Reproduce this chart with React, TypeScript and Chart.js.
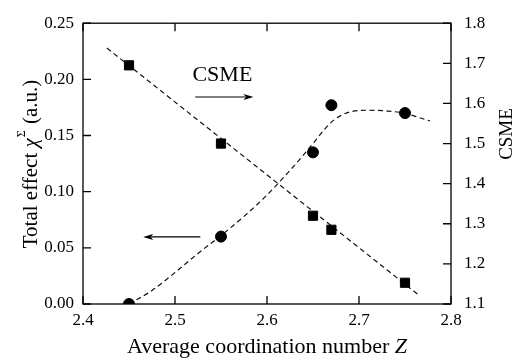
import { useEffect, useRef } from 'react';
import { Chart, registerables } from 'chart.js';

Chart.register(...registerables);

// ---- data ----
const zCsme = [2.45, 2.55, 2.65, 2.67, 2.75];
const csmeValues = [1.695, 1.5, 1.32, 1.285, 1.153];

const zTotal = [2.45, 2.55, 2.65, 2.67, 2.75];
const totalValues = [0.0, 0.06, 0.135, 0.177, 0.17];

const csmeFitZ = [2.426, 2.764];
const csmeFitValues = [1.738, 1.124];

const totalFitZ = [2.45, 2.475, 2.5, 2.525, 2.55, 2.575, 2.6, 2.625, 2.64, 2.653, 2.663, 2.673, 2.682, 2.691, 2.71, 2.731, 2.749, 2.777];
const totalFitValues = [0.0, 0.012, 0.028, 0.045, 0.061, 0.078, 0.097, 0.119, 0.133, 0.146, 0.156, 0.164, 0.1685, 0.1712, 0.1725, 0.1718, 0.1698, 0.163];

const xTicks = [2.4, 2.5, 2.6, 2.7, 2.8];
const leftTicks = [0, 0.05, 0.1, 0.15, 0.2, 0.25];
const rightTicks = [1.1, 1.2, 1.3, 1.4, 1.5, 1.6, 1.7, 1.8];

// annotation anchors (data units)
const csmeLabelAnchor = { z: 2.5515, v: 1.657 }; // right axis
const csmeArrow = { z0: 2.522, z1: 2.5853, v: 1.616 }; // right axis
const totalArrow = { z0: 2.5275, z1: 2.4654, v: 0.0597 }; // left axis

const FONT = 'Liberation Serif';
const INK = '#000';

Chart.defaults.font.family = FONT;
Chart.defaults.color = INK;

function drawArrow(ctx: CanvasRenderingContext2D, x0: number, x1: number, y: number) {
  const dir = x1 > x0 ? 1 : -1;
  const L = 10;
  const H = 3;
  ctx.beginPath();
  ctx.moveTo(x0, y);
  ctx.lineTo(x1 - dir * L * 0.8, y);
  ctx.lineWidth = 1.2;
  ctx.stroke();
  ctx.beginPath();
  ctx.moveTo(x1, y);
  ctx.lineTo(x1 - dir * L, y - H);
  ctx.lineTo(x1 - dir * L * 0.75, y);
  ctx.lineTo(x1 - dir * L, y + H);
  ctx.closePath();
  ctx.fill();
}

const overlay = {
  id: 'overlay',
  afterDraw(chart: any) {
    const { ctx, chartArea: a, scales } = chart;
    const sx = scales.x;
    const sy = scales.y;
    const sy1 = scales.y1;
    ctx.save();
    ctx.strokeStyle = INK;
    ctx.fillStyle = INK;
    ctx.lineWidth = 1.3;
    ctx.strokeRect(a.left, a.top, a.right - a.left, a.bottom - a.top);

    const T = 8;
    ctx.beginPath();
    xTicks.forEach((v) => {
      const px = sx.getPixelForValue(v);
      ctx.moveTo(px, a.bottom);
      ctx.lineTo(px, a.bottom - T);
      ctx.moveTo(px, a.top);
      ctx.lineTo(px, a.top + T);
    });
    leftTicks.forEach((v) => {
      const py = sy.getPixelForValue(v);
      ctx.moveTo(a.left, py);
      ctx.lineTo(a.left + T, py);
    });
    rightTicks.forEach((v) => {
      const py = sy1.getPixelForValue(v);
      ctx.moveTo(a.right, py);
      ctx.lineTo(a.right - T, py);
    });
    ctx.stroke();

    // arrows
    drawArrow(ctx, sx.getPixelForValue(csmeArrow.z0), sx.getPixelForValue(csmeArrow.z1), sy1.getPixelForValue(csmeArrow.v));
    drawArrow(ctx, sx.getPixelForValue(totalArrow.z0), sx.getPixelForValue(totalArrow.z1), sy.getPixelForValue(totalArrow.v));

    // CSME annotation
    ctx.font = `22px ${FONT}`;
    ctx.textAlign = 'center';
    ctx.textBaseline = 'alphabetic';
    ctx.fillText('CSME', sx.getPixelForValue(csmeLabelAnchor.z), sy1.getPixelForValue(csmeLabelAnchor.v));

    // x title
    const cx = (a.left + a.right) / 2;
    const p1 = 'Average coordination number ';
    ctx.font = `22px ${FONT}`;
    const w1 = ctx.measureText(p1).width;
    ctx.font = `italic 22px ${FONT}`;
    const w2 = ctx.measureText('Z').width;
    const sxStart = cx - (w1 + w2) / 2;
    ctx.textAlign = 'left';
    ctx.font = `22px ${FONT}`;
    ctx.fillText(p1, sxStart, 353);
    ctx.font = `italic 22px ${FONT}`;
    ctx.fillText('Z', sxStart + w1, 353);

    // left title (rotated)
    ctx.save();
    ctx.translate(37, 164);
    ctx.rotate(-Math.PI / 2);
    const fs = 21;
    const partA = 'Total effect ';
    const partB = '\u03C7';
    const partC = '\u03A3';
    const partD = ' (a.u.)';
    ctx.font = `${fs}px ${FONT}`;
    const wA = ctx.measureText(partA).width;
    const wD = ctx.measureText(partD).width;
    ctx.font = `italic ${fs}px ${FONT}`;
    const wB = ctx.measureText(partB).width;
    ctx.font = `${Math.round(fs * 0.55)}px ${FONT}`;
    const wC = ctx.measureText(partC).width;
    let tx = -(wA + wB + wC + wD + 2) / 2;
    ctx.textAlign = 'left';
    ctx.font = `${fs}px ${FONT}`;
    ctx.fillText(partA, tx, 0);
    tx += wA;
    ctx.font = `italic ${fs}px ${FONT}`;
    ctx.fillText(partB, tx, 0);
    tx += wB + 1;
    ctx.font = `${Math.round(fs * 0.55)}px ${FONT}`;
    ctx.fillText(partC, tx, -fs * 0.55);
    tx += wC + 1;
    ctx.font = `${fs}px ${FONT}`;
    ctx.fillText(partD, tx, 0);
    ctx.restore();

    // right title (rotated)
    ctx.save();
    ctx.translate(512, 134);
    ctx.rotate(-Math.PI / 2);
    ctx.font = `19px ${FONT}`;
    ctx.textAlign = 'center';
    ctx.fillText('CSME', 0, 0);
    ctx.restore();

    ctx.restore();
  },
};

export default function App() {
  const ref = useRef<HTMLCanvasElement | null>(null);

  useEffect(() => {
    if (!ref.current) return;
    const tickFont = { family: FONT, size: 17 };
    const chart = new Chart(ref.current, {
      type: 'scatter',
      data: {
        datasets: [
          {
            label: 'CSME',
            data: zCsme.map((z, i) => ({ x: z, y: csmeValues[i] })),
            yAxisID: 'y1',
            pointStyle: 'rect',
            pointRadius: 6.5,
            pointBorderWidth: 1,
            backgroundColor: INK,
            borderColor: INK,
            showLine: false,
          },
          {
            label: 'Total effect',
            data: zTotal.map((z, i) => ({ x: z, y: totalValues[i] })),
            yAxisID: 'y',
            pointStyle: 'circle',
            pointRadius: 5.5,
            pointBorderWidth: 1,
            backgroundColor: INK,
            borderColor: INK,
            showLine: false,
          },
          {
            label: 'CSME fit',
            data: csmeFitZ.map((z, i) => ({ x: z, y: csmeFitValues[i] })),
            yAxisID: 'y1',
            showLine: true,
            pointRadius: 0,
            borderColor: '#111',
            borderWidth: 1.2,
            borderDash: [5, 3.5],
          },
          {
            label: 'Total fit',
            data: totalFitZ.map((z, i) => ({ x: z, y: totalFitValues[i] })),
            yAxisID: 'y',
            showLine: true,
            pointRadius: 0,
            borderColor: '#111',
            borderWidth: 1.2,
            borderDash: [5, 3.5],
            cubicInterpolationMode: 'monotone',
          },
        ],
      },
      options: {
        animation: false,
        responsive: false,
        font: { family: FONT },
        layout: { padding: { top: 11, left: 0, right: 0, bottom: 0 } },
        plugins: {
          legend: { display: false },
          tooltip: { enabled: false },
        },
        scales: {
          x: {
            type: 'linear',
            min: 2.4,
            max: 2.8,
            grid: { display: false, drawTicks: false },
            border: { display: false },
            afterBuildTicks: (s: any) => {
              s.ticks = xTicks.map((v) => ({ value: v }));
            },
            afterFit: (s: any) => {
              s.height = 59;
            },
            ticks: {
              font: tickFont,
              color: INK,
              padding: 6,
              maxRotation: 0,
              autoSkip: false,
              callback: (v: any) => Number(v).toFixed(1),
            },
          },
          y: {
            type: 'linear',
            position: 'left',
            min: 0,
            max: 0.25,
            grid: { display: false, drawTicks: false },
            border: { display: false },
            afterBuildTicks: (s: any) => {
              s.ticks = leftTicks.map((v) => ({ value: v }));
            },
            afterFit: (s: any) => {
              s.width = 83;
            },
            ticks: {
              font: tickFont,
              color: INK,
              padding: 9,
              autoSkip: false,
              callback: (v: any) => Number(v).toFixed(2),
            },
          },
          y1: {
            type: 'linear',
            position: 'right',
            min: 1.1,
            max: 1.8,
            grid: { display: false, drawTicks: false },
            border: { display: false },
            afterBuildTicks: (s: any) => {
              s.ticks = rightTicks.map((v) => ({ value: v }));
            },
            afterFit: (s: any) => {
              s.width = 72;
            },
            ticks: {
              font: tickFont,
              color: INK,
              padding: 13,
              autoSkip: false,
              callback: (v: any) => Number(v).toFixed(1),
            },
          },
        },
      },
      plugins: [overlay],
    } as any);
    return () => chart.destroy();
  }, []);

  return (
    <div style={{ position: 'fixed', left: 0, top: 0, width: 523, height: 363, background: '#fff' }}>
      <canvas ref={ref} width={523} height={363} style={{ display: 'block' }} />
    </div>
  );
}
